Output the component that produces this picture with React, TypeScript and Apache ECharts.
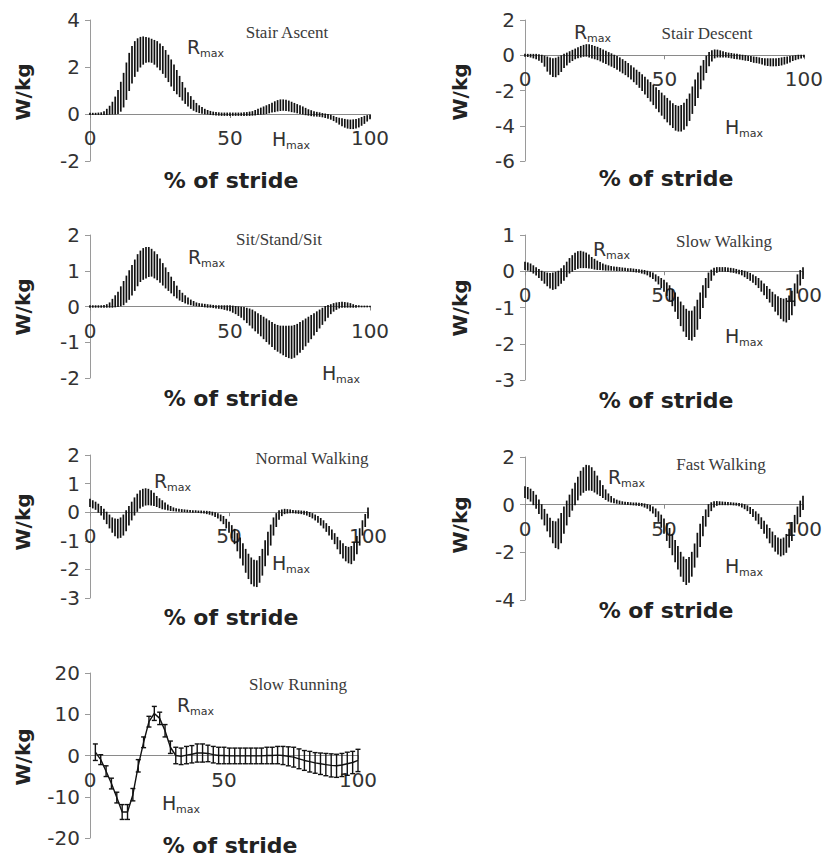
import React, { useEffect, useRef } from "react";
import * as echarts from "echarts";

// % of stride, 1 % steps (dense hatch panels)
const strideX = [
  0, 1, 2, 3, 4, 5, 6, 7, 8, 9, 10, 11, 12, 13, 14, 15, 16, 17, 18, 19,
  20, 21, 22, 23, 24, 25, 26, 27, 28, 29, 30, 31, 32, 33, 34, 35, 36, 37, 38, 39,
  40, 41, 42, 43, 44, 45, 46, 47, 48, 49, 50, 51, 52, 53, 54, 55, 56, 57, 58, 59,
  60, 61, 62, 63, 64, 65, 66, 67, 68, 69, 70, 71, 72, 73, 74, 75, 76, 77, 78, 79,
  80, 81, 82, 83, 84, 85, 86, 87, 88, 89, 90, 91, 92, 93, 94, 95, 96, 97, 98, 99, 100,
];
// % of stride, 2 % steps (slow running error bars)
const runX = [2, 4, 6, 8, 10, 12, 14, 16, 18, 20, 22, 24, 26, 28, 30, 32, 34, 36, 38, 40, 42, 44, 46, 48, 50, 52, 54, 56, 58, 60, 62, 64, 66, 68, 70, 72, 74, 76, 78, 80, 82, 84, 86, 88, 90, 92, 94, 96, 98, 100];

const xTicks = [0, 50, 100];

// band edges (mean ± SD), W/kg
const stairAscentHi = [
  0.03, 0.03, 0.03, 0.04, 0.05, 0.1, 0.2, 0.33, 0.5, 0.72,
  1.0, 1.35, 1.73, 2.17, 2.58, 2.87, 3.08, 3.2, 3.26, 3.28,
  3.26, 3.23, 3.18, 3.13, 3.08, 2.98, 2.87, 2.7, 2.5, 2.3,
  2.08, 1.85, 1.6, 1.34, 1.1, 0.9, 0.74, 0.58, 0.45, 0.35,
  0.28, 0.2, 0.15, 0.11, 0.08, 0.06, 0.05, 0.04, 0.04, 0.04,
  0.04, 0.04, 0.04, 0.04, 0.04, 0.05, 0.06, 0.08, 0.1, 0.15,
  0.2, 0.25, 0.3, 0.35, 0.4, 0.46, 0.52, 0.57, 0.6, 0.6,
  0.58, 0.55, 0.5, 0.45, 0.4, 0.35, 0.3, 0.24, 0.18, 0.14,
  0.1, 0.07, 0.05, 0.02, 0.0, -0.02, -0.05, -0.1, -0.15, -0.18,
  -0.2, -0.23, -0.25, -0.26, -0.25, -0.23, -0.2, -0.15, -0.1, -0.07,
  -0.05,
];
const stairAscentLo = [
  -0.02, -0.02, -0.02, -0.02, -0.02, -0.02, -0.02, -0.01, 0.0, 0.0,
  0.02, 0.12, 0.3, 0.62, 1.0, 1.32, 1.6, 1.82, 2.0, 2.12,
  2.2, 2.22, 2.2, 2.12, 2.0, 1.88, 1.73, 1.56, 1.38, 1.19,
  1.0, 0.86, 0.74, 0.59, 0.45, 0.34, 0.24, 0.16, 0.1, 0.06,
  0.03, 0.01, 0.0, -0.02, -0.03, -0.04, -0.05, -0.06, -0.06, -0.06,
  -0.06, -0.06, -0.06, -0.06, -0.06, -0.06, -0.06, -0.06, -0.05, -0.04,
  -0.02, -0.01, 0.0, 0.02, 0.05, 0.08, 0.1, 0.13, 0.15, 0.16,
  0.15, 0.13, 0.1, 0.08, 0.05, 0.02, 0.0, -0.03, -0.05, -0.07,
  -0.08, -0.09, -0.1, -0.12, -0.15, -0.18, -0.22, -0.28, -0.35, -0.43,
  -0.5, -0.56, -0.6, -0.62, -0.62, -0.6, -0.55, -0.48, -0.4, -0.3,
  -0.2,
];

const stairDescentHi = [
  0.05, 0.05, 0.05, 0.05, 0.05, 0.03, 0.0, -0.05, -0.1, -0.16,
  -0.2, -0.17, -0.1, -0.03, 0.05, 0.12, 0.2, 0.28, 0.35, 0.43,
  0.5, 0.56, 0.6, 0.59, 0.55, 0.5, 0.45, 0.38, 0.3, 0.22,
  0.15, 0.08, 0.0, -0.07, -0.15, -0.25, -0.35, -0.47, -0.6, -0.72,
  -0.85, -0.97, -1.1, -1.25, -1.4, -1.55, -1.7, -1.85, -2.0, -2.15,
  -2.3, -2.45, -2.6, -2.75, -2.85, -2.9, -2.85, -2.72, -2.5, -2.2,
  -1.8, -1.4, -1.0, -0.62, -0.3, -0.05, 0.15, 0.25, 0.3, 0.29,
  0.25, 0.2, 0.15, 0.12, 0.1, 0.07, 0.05, 0.02, 0.0, -0.02,
  -0.05, -0.07, -0.1, -0.12, -0.15, -0.18, -0.2, -0.2, -0.2, -0.2,
  -0.2, -0.18, -0.15, -0.12, -0.1, -0.07, -0.05, -0.02, 0.0, 0.0,
  0.0,
];
const stairDescentLo = [
  -0.05, -0.07, -0.1, -0.15, -0.2, -0.28, -0.4, -0.62, -0.9, -1.08,
  -1.2, -1.22, -1.1, -0.92, -0.7, -0.55, -0.4, -0.3, -0.2, -0.14,
  -0.1, -0.06, -0.05, -0.1, -0.15, -0.2, -0.25, -0.32, -0.4, -0.47,
  -0.55, -0.62, -0.7, -0.8, -0.9, -1.0, -1.1, -1.22, -1.35, -1.5,
  -1.65, -1.82, -2.0, -2.2, -2.4, -2.6, -2.8, -3.0, -3.2, -3.4,
  -3.6, -3.78, -3.95, -4.1, -4.25, -4.3, -4.3, -4.2, -4.0, -3.7,
  -3.3, -2.85, -2.4, -1.9, -1.4, -0.98, -0.6, -0.32, -0.15, -0.1,
  -0.1, -0.1, -0.1, -0.12, -0.15, -0.18, -0.2, -0.22, -0.25, -0.28,
  -0.3, -0.35, -0.4, -0.42, -0.45, -0.5, -0.55, -0.58, -0.6, -0.6,
  -0.6, -0.58, -0.55, -0.5, -0.45, -0.38, -0.3, -0.25, -0.2, -0.15,
  -0.1,
];

const sitStandHi = [
  0.02, 0.02, 0.02, 0.02, 0.02, 0.03, 0.05, 0.1, 0.2, 0.3,
  0.4, 0.55, 0.7, 0.85, 1.0, 1.15, 1.3, 1.45, 1.55, 1.62,
  1.65, 1.65, 1.6, 1.53, 1.45, 1.33, 1.2, 1.08, 0.95, 0.82,
  0.7, 0.57, 0.45, 0.37, 0.3, 0.24, 0.18, 0.14, 0.1, 0.08,
  0.07, 0.06, 0.05, 0.04, 0.03, 0.02, 0.02, 0.02, 0.02, 0.02,
  0.02, 0.01, 0.0, -0.01, -0.02, -0.03, -0.05, -0.07, -0.1, -0.15,
  -0.2, -0.25, -0.3, -0.35, -0.4, -0.45, -0.5, -0.53, -0.55, -0.55,
  -0.55, -0.55, -0.55, -0.53, -0.5, -0.45, -0.4, -0.35, -0.3, -0.25,
  -0.2, -0.15, -0.1, -0.05, 0.0, 0.03, 0.05, 0.08, 0.1, 0.11,
  0.12, 0.11, 0.1, 0.08, 0.05, 0.03, 0.02, 0.01, 0.01, 0.01,
  0.01,
];
const sitStandLo = [
  -0.02, -0.02, -0.02, -0.02, -0.02, -0.02, -0.02, -0.02, -0.02, -0.01,
  0.0, 0.02, 0.05, 0.12, 0.2, 0.32, 0.45, 0.58, 0.7, 0.76,
  0.8, 0.84, 0.85, 0.8, 0.75, 0.68, 0.6, 0.52, 0.45, 0.38,
  0.3, 0.24, 0.18, 0.14, 0.1, 0.07, 0.05, 0.03, 0.02, 0.01,
  0.0, -0.01, -0.02, -0.02, -0.03, -0.04, -0.05, -0.06, -0.08, -0.1,
  -0.12, -0.16, -0.2, -0.25, -0.3, -0.37, -0.45, -0.52, -0.6, -0.68,
  -0.75, -0.82, -0.9, -0.98, -1.05, -1.12, -1.2, -1.25, -1.3, -1.35,
  -1.4, -1.43, -1.45, -1.42, -1.35, -1.28, -1.2, -1.1, -1.0, -0.9,
  -0.8, -0.7, -0.6, -0.5, -0.4, -0.3, -0.2, -0.13, -0.08, -0.04,
  -0.02, -0.02, -0.02, -0.02, -0.02, -0.02, -0.01, -0.01, -0.01, -0.01,
  -0.01,
];

const slowWalkHi = [
  0.25, 0.23, 0.2, 0.15, 0.1, 0.05, 0.0, -0.03, -0.05, -0.06,
  -0.05, -0.03, 0.0, 0.07, 0.15, 0.25, 0.35, 0.43, 0.5, 0.54,
  0.55, 0.53, 0.5, 0.45, 0.38, 0.33, 0.28, 0.24, 0.2, 0.17,
  0.15, 0.13, 0.12, 0.11, 0.1, 0.09, 0.08, 0.07, 0.07, 0.06,
  0.05, 0.04, 0.03, 0.02, 0.0, -0.02, -0.05, -0.1, -0.15, -0.2,
  -0.25, -0.32, -0.4, -0.5, -0.6, -0.72, -0.85, -0.95, -1.05, -1.1,
  -1.1, -0.98, -0.8, -0.6, -0.4, -0.2, -0.05, 0.03, 0.08, 0.1,
  0.1, 0.1, 0.1, 0.09, 0.08, 0.07, 0.05, 0.03, 0.02, 0.0,
  -0.03, -0.06, -0.1, -0.15, -0.2, -0.27, -0.35, -0.42, -0.5, -0.58,
  -0.65, -0.7, -0.75, -0.77, -0.75, -0.68, -0.55, -0.35, -0.1, 0.02,
  0.1,
];
const slowWalkLo = [
  0.05, 0.03, 0.0, -0.05, -0.1, -0.17, -0.25, -0.33, -0.4, -0.46,
  -0.5, -0.48, -0.4, -0.33, -0.25, -0.15, -0.05, 0.0, 0.05, 0.08,
  0.1, 0.1, 0.1, 0.09, 0.08, 0.06, 0.05, 0.05, 0.04, 0.03,
  0.03, 0.03, 0.03, 0.02, 0.02, 0.02, 0.02, 0.01, 0.0, -0.01,
  -0.02, -0.03, -0.05, -0.07, -0.1, -0.15, -0.2, -0.27, -0.35, -0.45,
  -0.55, -0.67, -0.8, -0.95, -1.1, -1.3, -1.5, -1.65, -1.8, -1.88,
  -1.9, -1.8, -1.6, -1.3, -1.0, -0.72, -0.45, -0.25, -0.1, -0.03,
  0.0, 0.0, 0.0, -0.01, -0.02, -0.03, -0.05, -0.07, -0.1, -0.15,
  -0.2, -0.25, -0.3, -0.37, -0.45, -0.55, -0.65, -0.75, -0.85, -0.97,
  -1.1, -1.2, -1.3, -1.37, -1.4, -1.33, -1.2, -0.95, -0.6, -0.38,
  -0.2,
];

const normalWalkHi = [
  0.45, 0.4, 0.35, 0.28, 0.2, 0.1, 0.0, -0.1, -0.2, -0.24,
  -0.25, -0.2, -0.1, 0.05, 0.2, 0.35, 0.5, 0.63, 0.75, 0.8,
  0.82, 0.8, 0.75, 0.66, 0.55, 0.47, 0.4, 0.32, 0.25, 0.2,
  0.15, 0.12, 0.1, 0.09, 0.08, 0.07, 0.06, 0.05, 0.05, 0.04,
  0.04, 0.03, 0.03, 0.02, 0.0, -0.02, -0.05, -0.1, -0.15, -0.25,
  -0.35, -0.47, -0.6, -0.75, -0.9, -1.1, -1.3, -1.47, -1.6, -1.68,
  -1.7, -1.55, -1.3, -1.0, -0.7, -0.45, -0.2, -0.05, 0.05, 0.08,
  0.1, 0.09, 0.08, 0.06, 0.05, 0.05, 0.04, 0.03, 0.02, -0.01,
  -0.05, -0.1, -0.15, -0.22, -0.3, -0.4, -0.5, -0.62, -0.75, -0.88,
  -1.0, -1.1, -1.2, -1.23, -1.2, -1.05, -0.85, -0.58, -0.3, -0.08,
  0.15,
];
const normalWalkLo = [
  0.2, 0.15, 0.1, 0.0, -0.1, -0.25, -0.4, -0.55, -0.7, -0.82,
  -0.9, -0.88, -0.8, -0.65, -0.45, -0.27, -0.1, 0.03, 0.15, 0.21,
  0.25, 0.26, 0.25, 0.23, 0.2, 0.16, 0.12, 0.1, 0.08, 0.06,
  0.05, 0.04, 0.03, 0.02, 0.02, 0.01, 0.01, 0.0, 0.0, -0.01,
  -0.02, -0.03, -0.05, -0.07, -0.1, -0.15, -0.2, -0.3, -0.4, -0.55,
  -0.7, -0.9, -1.1, -1.35, -1.6, -1.85, -2.1, -2.32, -2.5, -2.58,
  -2.6, -2.45, -2.2, -1.87, -1.5, -1.15, -0.8, -0.5, -0.25, -0.12,
  -0.05, -0.03, -0.02, -0.02, -0.03, -0.04, -0.05, -0.07, -0.1, -0.15,
  -0.2, -0.27, -0.35, -0.45, -0.55, -0.67, -0.8, -0.95, -1.1, -1.28,
  -1.45, -1.6, -1.7, -1.77, -1.8, -1.68, -1.45, -1.15, -0.8, -0.5,
  -0.2,
];

const fastWalkHi = [
  0.75, 0.72, 0.65, 0.55, 0.4, 0.2, 0.0, -0.2, -0.4, -0.57,
  -0.7, -0.72, -0.6, -0.37, -0.1, 0.15, 0.4, 0.65, 0.9, 1.15,
  1.4, 1.55, 1.65, 1.63, 1.55, 1.4, 1.2, 1.0, 0.8, 0.62,
  0.45, 0.34, 0.25, 0.19, 0.15, 0.12, 0.1, 0.09, 0.08, 0.07,
  0.07, 0.06, 0.05, 0.03, 0.0, -0.04, -0.1, -0.18, -0.3, -0.44,
  -0.6, -0.8, -1.0, -1.25, -1.5, -1.75, -2.0, -2.2, -2.3, -2.22,
  -2.0, -1.65, -1.2, -0.82, -0.5, -0.22, 0.0, 0.08, 0.12, 0.13,
  0.12, 0.11, 0.1, 0.09, 0.08, 0.07, 0.06, 0.05, 0.03, 0.0,
  -0.05, -0.12, -0.2, -0.3, -0.4, -0.55, -0.7, -0.85, -1.0, -1.15,
  -1.3, -1.4, -1.45, -1.4, -1.25, -1.03, -0.75, -0.45, -0.1, 0.15,
  0.35,
];
const fastWalkLo = [
  0.3, 0.25, 0.15, 0.0, -0.15, -0.37, -0.6, -0.85, -1.1, -1.35,
  -1.6, -1.8, -1.85, -1.6, -1.2, -0.85, -0.5, -0.23, 0.0, 0.2,
  0.4, 0.52, 0.6, 0.62, 0.6, 0.53, 0.45, 0.38, 0.3, 0.22,
  0.15, 0.11, 0.08, 0.06, 0.04, 0.03, 0.02, 0.01, 0.0, -0.01,
  -0.02, -0.03, -0.05, -0.1, -0.15, -0.25, -0.35, -0.5, -0.7, -0.95,
  -1.2, -1.5, -1.8, -2.1, -2.4, -2.7, -3.0, -3.22, -3.35, -3.25,
  -3.0, -2.62, -2.2, -1.75, -1.3, -0.9, -0.5, -0.25, -0.1, -0.03,
  0.0, 0.0, 0.0, 0.0, 0.0, -0.01, -0.02, -0.05, -0.1, -0.17,
  -0.25, -0.37, -0.5, -0.65, -0.8, -1.0, -1.2, -1.4, -1.6, -1.78,
  -1.95, -2.07, -2.15, -2.1, -2.0, -1.78, -1.5, -1.15, -0.8, -0.5,
  -0.2,
];

// slow running: mean and SD (error bars with caps)
const slowRunMean = [0.8, -1.0, -3.8, -6.8, -10.2, -13.7, -13.7, -9.5, -2.5, 3.2, 8.2, 10.2, 9.0, 6.0, 2.0, 0.0, -0.2, 0.1, 0.3, 0.6, 0.6, 0.5, 0.2, 0.0, 0.0, -0.1, -0.1, -0.1, -0.1, -0.1, -0.1, -0.1, 0.0, 0.0, 0.1, 0.0, -0.2, -0.4, -0.8, -1.2, -1.5, -1.8, -2.0, -2.2, -2.4, -2.5, -2.3, -2.0, -1.7, -1.2];
const slowRunSd = [2.0, 1.2, 1.3, 1.3, 1.3, 1.8, 1.8, 1.5, 1.5, 1.3, 1.3, 1.7, 1.5, 1.5, 1.5, 2.0, 2.0, 2.1, 2.1, 2.2, 2.2, 2.0, 2.0, 2.0, 2.0, 1.9, 1.9, 1.9, 1.9, 1.9, 1.9, 1.9, 2.0, 2.0, 2.1, 2.2, 2.3, 2.4, 2.4, 2.4, 2.5, 2.5, 2.6, 2.7, 2.8, 2.8, 2.8, 2.8, 2.7, 2.7];
const slowRunHi = slowRunMean.map((m, k) => m + slowRunSd[k]);
const slowRunLo = slowRunMean.map((m, k) => m - slowRunSd[k]);

const panels = [
  { title: "Stair Ascent", xs: strideX, lo: stairAscentLo, hi: stairAscentHi, mean: null as number[] | null, min: -2, max: 4, interval: 2, caps: false,
    grid: { left: 90, top: 20, width: 280, height: 141 }, titleAt: [287, 32], rAt: [187, 47], hAt: [272, 139], yName: [23, 92], xName: [231, 180] },
  { title: "Stair Descent", xs: strideX, lo: stairDescentLo, hi: stairDescentHi, mean: null, min: -6, max: 2, interval: 2, caps: false,
    grid: { left: 525, top: 20, width: 281, height: 141 }, titleAt: [707, 33], rAt: [574, 32], hAt: [725, 127], yName: [460, 92], xName: [666, 178] },
  { title: "Sit/Stand/Sit", xs: strideX, lo: sitStandLo, hi: sitStandHi, mean: null, min: -2, max: 2, interval: 1, caps: false,
    grid: { left: 90, top: 235, width: 280, height: 143 }, titleAt: [279, 239], rAt: [188, 257], hAt: [322, 373], yName: [23, 307], xName: [231, 398] },
  { title: "Slow Walking", xs: strideX, lo: slowWalkLo, hi: slowWalkHi, mean: null, min: -3, max: 1, interval: 1, caps: false,
    grid: { left: 525, top: 235, width: 278, height: 145 }, titleAt: [724, 241], rAt: [593, 249], hAt: [725, 336], yName: [460, 308], xName: [666, 400] },
  { title: "Normal Walking", xs: strideX, lo: normalWalkLo, hi: normalWalkHi, mean: null, min: -3, max: 2, interval: 1, caps: false,
    grid: { left: 90, top: 455, width: 278, height: 143 }, titleAt: [312, 458], rAt: [154, 481], hAt: [272, 563], yName: [23, 522], xName: [231, 617] },
  { title: "Fast Walking", xs: strideX, lo: fastWalkLo, hi: fastWalkHi, mean: null, min: -4, max: 2, interval: 2, caps: false,
    grid: { left: 525, top: 457, width: 278, height: 143 }, titleAt: [721, 464], rAt: [608, 477], hAt: [725, 566], yName: [460, 525], xName: [666, 610] },
  { title: "Slow Running", xs: runX, lo: slowRunLo, hi: slowRunHi, mean: slowRunMean, min: -20, max: 20, interval: 10, caps: true,
    grid: { left: 90, top: 673, width: 268, height: 165 }, titleAt: [298, 684], rAt: [177, 705], hAt: [162, 803], yName: [23, 757], xName: [230, 845] },
];

const SANS = '"DejaVu Sans", "Liberation Sans", Arial, sans-serif';
const SERIF = '"Liberation Serif", "Times New Roman", serif';

function buildOption() {
  const grids: any[] = [];
  const xAxes: any[] = [];
  const yAxes: any[] = [];
  const series: any[] = [];
  const graphics: any[] = [];

  panels.forEach((p, i) => {
    grids.push({ ...p.grid, containLabel: false });
    // place the x axis (line, ticks, labels) on the zero line
    const zeroOffset = -p.grid.height * (0 - p.min) / (p.max - p.min);
    xAxes.push({
      type: "value", gridIndex: i, min: xTicks[0], max: xTicks[2], interval: xTicks[1] - xTicks[0],
      position: "bottom", offset: zeroOffset,
      axisLine: { onZero: false, lineStyle: { color: "#8a8a8a", width: 1 } },
      axisTick: { show: true, length: 4, lineStyle: { color: "#8a8a8a" } },
      axisLabel: { fontSize: 20, fontFamily: SANS, color: "#333", margin: 14 },
      splitLine: { show: false },
    });
    yAxes.push({
      type: "value", gridIndex: i, min: p.min, max: p.max, interval: p.interval,
      axisLine: { show: true, onZero: false, lineStyle: { color: "#9a9a9a", width: 1 } },
      axisTick: { show: true, length: 5, lineStyle: { color: "#9a9a9a" } },
      axisLabel: { fontSize: 20, fontFamily: SANS, color: "#333", margin: 10 },
      splitLine: { show: false },
    });
    const data = p.xs.map((x, k) => [x, p.lo[k], p.hi[k]]);
    const caps = p.caps;
    series.push({
      type: "custom", xAxisIndex: i, yAxisIndex: i, data,
      encode: { x: 0, y: [1, 2] },
      z: 3,
      renderItem: (_params: any, api: any) => {
        const x = api.value(0);
        const a = api.coord([x, api.value(1)]);
        const b = api.coord([x, api.value(2)]);
        const st = { stroke: "#111", lineWidth: caps ? 1.4 : 1.7 };
        const main = { type: "line", shape: { x1: a[0], y1: a[1] + (caps ? 0 : 0.5), x2: b[0], y2: b[1] - (caps ? 0 : 0.5) }, style: st };
        if (!caps) return main;
        const w = 2.5;
        return {
          type: "group",
          children: [
            main,
            { type: "line", shape: { x1: a[0] - w, y1: a[1], x2: a[0] + w, y2: a[1] }, style: st },
            { type: "line", shape: { x1: b[0] - w, y1: b[1], x2: b[0] + w, y2: b[1] }, style: st },
          ],
        };
      },
    });
    if (p.mean) {
      series.push({
        type: "line", xAxisIndex: i, yAxisIndex: i, z: 4,
        data: p.xs.map((x, k) => [x, (p.mean as number[])[k]]),
        symbol: "none", lineStyle: { color: "#111", width: 1.4 },
      });
    }

    graphics.push({
      type: "text", x: p.titleAt[0], y: p.titleAt[1],
      style: { text: p.title, font: `17px ${SERIF}`, fill: "#3a3a3a", align: "center", verticalAlign: "middle" },
    });
    graphics.push({
      type: "text", x: p.yName[0], y: p.yName[1], rotation: Math.PI / 2,
      style: { text: "W/kg", font: `bold 20px ${SANS}`, fill: "#222", align: "center", verticalAlign: "middle" },
    });
    graphics.push({
      type: "text", x: p.xName[0], y: p.xName[1],
      style: { text: "% of stride", font: `bold 22px ${SANS}`, fill: "#222", align: "center", verticalAlign: "middle" },
    });
    [["R", p.rAt], ["H", p.hAt]].forEach(([letter, at]: any) => {
      graphics.push({
        type: "text", x: at[0], y: at[1],
        style: { text: letter, font: `19px ${SANS}`, fill: "#333", align: "left", verticalAlign: "middle" },
      });
      graphics.push({
        type: "text", x: at[0] + (letter === "R" ? 13 : 14), y: at[1] + 6,
        style: { text: "max", font: `11px ${SANS}`, fill: "#333", align: "left", verticalAlign: "middle" },
      });
    });
  });

  return {
    animation: false,
    backgroundColor: "#fff",
    grid: grids,
    xAxis: xAxes,
    yAxis: yAxes,
    series,
    graphic: graphics,
  };
}

export default function App() {
  const ref = useRef<HTMLDivElement>(null);
  useEffect(() => {
    if (!ref.current) return;
    const chart = echarts.init(ref.current, undefined, { renderer: "svg" });
    chart.setOption(buildOption() as any);
    return () => chart.dispose();
  }, []);
  return <div ref={ref} style={{ position: "absolute", left: 0, top: 0, width: 826, height: 868 }} />;
}
